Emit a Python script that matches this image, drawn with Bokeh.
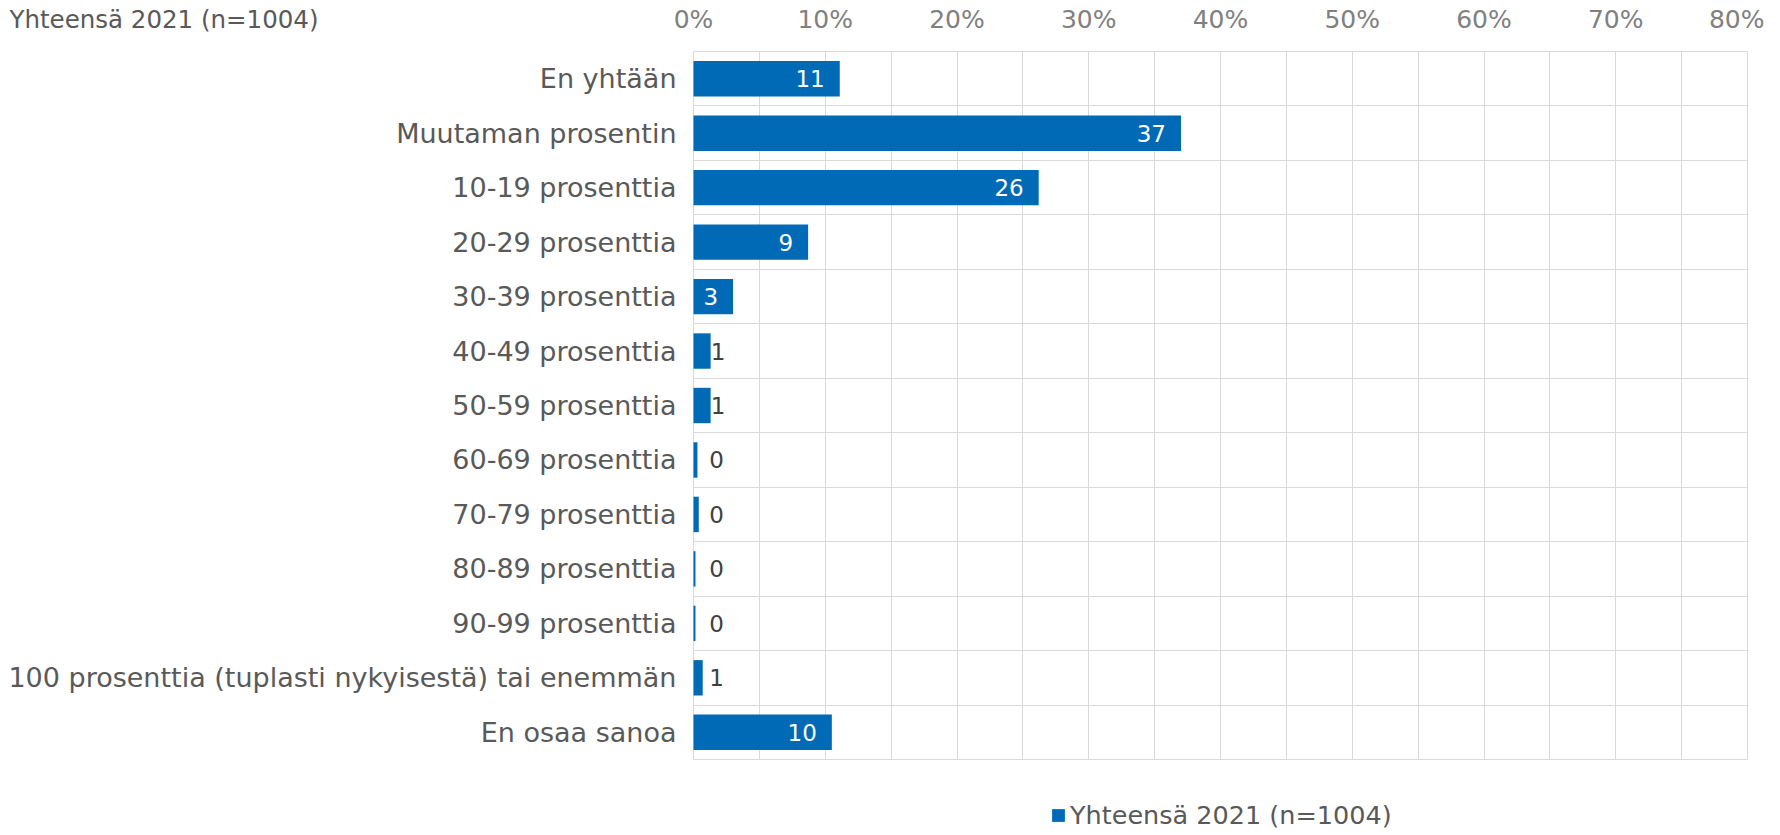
from bokeh.plotting import figure
from bokeh.models import (ColumnDataSource, Range1d, FixedTicker, Legend, LegendItem, Label)
from bokeh.core.properties import value
from bokeh.embed import file_html
from bokeh.resources import INLINE

categories = [
    "En yhtään",
    "Muutaman prosentin",
    "10-19 prosenttia",
    "20-29 prosenttia",
    "30-39 prosenttia",
    "40-49 prosenttia",
    "50-59 prosenttia",
    "60-69 prosenttia",
    "70-79 prosenttia",
    "80-89 prosenttia",
    "90-99 prosenttia",
    "100 prosenttia (tuplasti nykyisestä) tai enemmän",
    "En osaa sanoa",
]
values = [11.1, 37.0, 26.2, 8.7, 3.0, 1.3, 1.3, 0.3, 0.4, 0.15, 0.15, 0.7, 10.5]
labels = ["11", "37", "26", "9", "3", "1", "1", "0", "0", "0", "0", "1", "10"]
x_ticks = [0, 10, 20, 30, 40, 50, 60, 70, 80]
series_name = "Yhteensä 2021 (n=1004)"

FONT = "DejaVu Sans"
BAR = "#006AB6"
GRID = "#D9D9D9"

n = len(categories)
ypos = [n - i - 0.5 for i in range(n)]
XMAX = 80

# canvas / plotting-area geometry in pixels
W, H = 1764, 833
G_LEFT, G_RIGHT, G_TOP, G_BOTTOM = 693, 1747, 51, 759
GW, GH = G_RIGHT - G_LEFT, G_BOTTOM - G_TOP
ppx = GW / XMAX
ppy = GH / n

p = figure(frame_width=W, frame_height=H, output_backend="svg", toolbar_location=None,
           x_range=Range1d(-G_LEFT / ppx, (W - G_LEFT) / ppx),
           y_range=Range1d(-(H - G_BOTTOM) / ppy, n + G_TOP / ppy),
           x_axis_location="above", y_axis_location="left")
p.min_border_left = p.min_border_right = p.min_border_top = p.min_border_bottom = 0
p.outline_line_color = None
p.background_fill_color = "white"
p.border_fill_color = "white"
p.xgrid.visible = False
p.ygrid.visible = False

src = ColumnDataSource(dict(y=ypos, v=values, lab=labels))
r = p.hbar(y="y", right="v", left=0, height=0.65, source=src, fill_color=BAR, line_color=None)

inside = ColumnDataSource(dict(
    y=[y for y, v in zip(ypos, values) if v >= 2.5],
    v=[v for v in values if v >= 2.5],
    lab=[l for l, v in zip(labels, values) if v >= 2.5]))
outside = ColumnDataSource(dict(
    y=[y for y, v in zip(ypos, values) if v < 2.5],
    x=[max(v, 1.2) for v in values if v < 2.5],
    lab=[l for l, v in zip(labels, values) if v < 2.5]))
p.text(x="v", y="y", text="lab", source=inside, x_offset=-15, text_align="right",
       text_baseline="middle", text_color="white", text_font=value(FONT), text_font_size="23px")
p.text(x="x", y="y", text="lab", source=outside, x_offset=0, text_align="left",
       text_baseline="middle", text_color="#404040", text_font=value(FONT), text_font_size="23px")

# x axis at the top of the plotting area; its ticks run down as the vertical grid lines
xa = p.xaxis[0]
xa.fixed_location = n
xa.level = "underlay"
xa.ticker = FixedTicker(ticks=x_ticks, minor_ticks=list(range(5, XMAX, 10)))
xa.major_label_overrides = {t: f"{t}%" for t in x_ticks}
xa.axis_line_color = None
xa.major_tick_line_color = GRID
xa.minor_tick_line_color = GRID
xa.major_tick_out = 0
xa.major_tick_in = GH
xa.minor_tick_out = 0
xa.minor_tick_in = GH
xa.major_label_standoff = 18
xa.major_label_text_font = FONT
xa.major_label_text_font_size = "25px"
xa.major_label_text_color = "#808080"

# y axis (categories) at x = 0; its minor ticks run right as the horizontal grid lines
ya = p.yaxis[0]
ya.fixed_location = 0
ya.level = "underlay"
ya.ticker = FixedTicker(ticks=ypos, minor_ticks=list(range(0, n + 1)))
ya.major_label_overrides = {y: c for y, c in zip(ypos, categories)}
ya.axis_line_color = None
ya.major_tick_line_color = None
ya.minor_tick_line_color = GRID
ya.major_tick_out = 0
ya.major_tick_in = 0
ya.minor_tick_out = 0
ya.minor_tick_in = GW
ya.major_label_standoff = 17
ya.major_label_text_font = FONT
ya.major_label_text_font_size = "27px"
ya.major_label_text_color = "#595959"

title = Label(x=9, y=H - 19, x_units="screen", y_units="screen", text=series_name,
              text_align="left", text_baseline="middle", text_font=FONT,
              text_font_size="24.5px", text_color="#595959")
p.add_layout(title)

legend = Legend(items=[LegendItem(label=series_name, renderers=[r])],
                orientation="horizontal", location=(1050, 3),
                glyph_width=16, glyph_height=16, label_standoff=4,
                label_text_font=FONT, label_text_font_size="25.5px", label_text_color="#595959",
                border_line_color=None, background_fill_alpha=0, margin=0, padding=0)
p.add_layout(legend, "center")

open("out.html", "w").write(file_html(p, INLINE))
